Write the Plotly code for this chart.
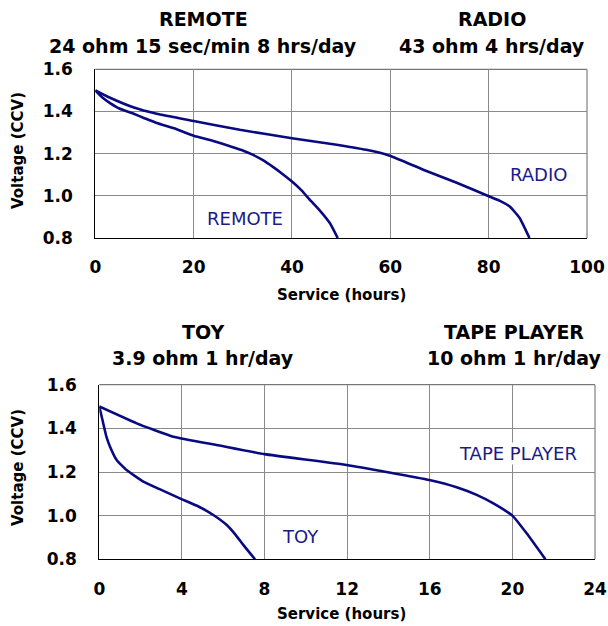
import plotly.graph_objects as go

# ---- data ----
remote_x = [0, 1.5, 3, 5, 7.7, 10, 12.5, 16, 20, 24, 27.4, 30, 32, 34, 36.2, 38, 40, 42, 43.6, 45.5, 47.7, 49.3]
remote_v = [1.5, 1.465, 1.44, 1.413, 1.39, 1.368, 1.345, 1.32, 1.285, 1.26, 1.235, 1.215, 1.195, 1.17, 1.136, 1.105, 1.068, 1.025, 0.982, 0.935, 0.871, 0.8]

radio_x = [0, 3, 7.7, 12.5, 20, 29.4, 40, 47.7, 55.1, 59.9, 66.7, 73.5, 79.9, 82.5, 84.3, 86.3, 88.3]
radio_v = [1.5, 1.465, 1.42, 1.389, 1.355, 1.313, 1.273, 1.247, 1.218, 1.19, 1.124, 1.062, 0.999, 0.974, 0.949, 0.895, 0.8]

toy_x = [0, 0.1, 0.19, 0.35, 0.52, 0.84, 1.32, 2.13, 3.0, 3.9, 4.8, 5.52, 6.17, 6.6, 6.97, 7.54]
toy_v = [1.5, 1.46, 1.423, 1.36, 1.316, 1.255, 1.209, 1.156, 1.118, 1.079, 1.042, 1.003, 0.957, 0.912, 0.866, 0.8]

tape_x = [0, 1.81, 3.58, 5.68, 7.99, 11.98, 15.98, 17.3, 18.27, 19.08, 20.0, 20.69, 21.6]
tape_v = [1.5, 1.423, 1.362, 1.324, 1.282, 1.232, 1.163, 1.13, 1.095, 1.056, 1.0, 0.919, 0.8]

top_xticks = [0, 20, 40, 60, 80, 100]
bot_xticks = [0, 4, 8, 12, 16, 20, 24]
yticks = [0.8, 1.0, 1.2, 1.4, 1.6]

top_titles = [("REMOTE", "24 ohm 15 sec/min 8 hrs/day", 203), ("RADIO", "43 ohm 4 hrs/day", 492)]
bot_titles = [("TOY", "3.9 ohm 1 hr/day", 203), ("TAPE PLAYER", "10 ohm 1 hr/day", 514)]

# ---- styling ----
W, H = 608, 626
LINE = "#0a0a80"
LABEL = "#1a1a8a"
BOLD = "DejaVu Sans"
GRID = "#8a8a8a"

fig = go.Figure()
for xs, vs, xa, ya in [(remote_x, remote_v, "x", "y"), (radio_x, radio_v, "x", "y"),
                       (toy_x, toy_v, "x2", "y2"), (tape_x, tape_v, "x2", "y2")]:
    fig.add_trace(go.Scatter(x=xs, y=vs, xaxis=xa, yaxis=ya, mode="lines",
                             line=dict(color=LINE, width=2.6, shape="spline", smoothing=0.4),
                             showlegend=False, hoverinfo="skip", cliponaxis=True))

def px_x(p):
    return p / W

def px_y(p):
    return 1 - p / H

axis_common = dict(showline=True, linecolor="black", linewidth=1.2, showgrid=True,
                   gridcolor=GRID, gridwidth=1, zeroline=False, ticks="", automargin=False,
                   tickfont=dict(family=BOLD, size=17, color="black", weight="bold"))

fig.update_layout(
    width=W, height=H, margin=dict(l=0, r=0, t=0, b=0, autoexpand=False),
    paper_bgcolor="white", plot_bgcolor="white",
    xaxis=dict(domain=[px_x(95.3), px_x(587)], range=[0, 100], tickvals=top_xticks,
               anchor="y", ticklabelstandoff=13, **axis_common),
    yaxis=dict(domain=[px_y(238), px_y(69.3)], range=[0.8, 1.6], tickvals=yticks,
               tickformat=".1f", anchor="x", ticklabelstandoff=18, **axis_common),
    xaxis2=dict(domain=[px_x(99.3), px_x(595)], range=[0, 24], tickvals=bot_xticks,
                anchor="y2", ticklabelstandoff=14, **axis_common),
    yaxis2=dict(domain=[px_y(559.3), px_y(384.7)], range=[0.8, 1.6], tickvals=yticks,
                tickformat=".1f", anchor="x2", ticklabelstandoff=18, **axis_common),
)

# top and right frame edges (gray)
shapes = []
for xr, yr in [("x domain", "y domain"), ("x2 domain", "y2 domain")]:
    shapes.append(dict(type="line", xref=xr, yref=yr, x0=0, x1=1, y0=1, y1=1,
                       line=dict(color="#555555", width=1), layer="below"))
    shapes.append(dict(type="line", xref=xr, yref=yr, x0=1, x1=1, y0=0, y1=1,
                       line=dict(color="#999999", width=1.5), layer="below"))
fig.update_layout(shapes=shapes)

ann = []
# curve labels
for txt, x, y, xr, yr in [("REMOTE", 30.4, 0.893, "x", "y"), ("RADIO", 90.1, 1.1, "x", "y"),
                          ("TOY", 9.72, 0.904, "x2", "y2"), ("TAPE PLAYER", 20.26, 1.286, "x2", "y2")]:
    ann.append(dict(text=txt, x=x, y=y, xref=xr, yref=yr, showarrow=False,
                    bgcolor="white", borderpad=0,
                    font=dict(family=BOLD, size=18, color=LABEL)))
# panel titles
for titles, y1, y2 in [(top_titles, 19, 46), (bot_titles, 332, 358)]:
    for t, sub, cx in titles:
        ann.append(dict(text="<b>%s</b>" % t, x=px_x(cx), y=px_y(y1), xref="paper", yref="paper",
                        showarrow=False, xanchor="center", yanchor="middle",
                        font=dict(family=BOLD, size=19, color="black")))
        ann.append(dict(text="<b>%s</b>" % sub, x=px_x(cx), y=px_y(y2), xref="paper", yref="paper",
                        showarrow=False, xanchor="center", yanchor="middle",
                        font=dict(family=BOLD, size=19, color="black")))
# axis titles
for yc in [295, 614]:
    ann.append(dict(text="<b>Service (hours)</b>", x=px_x(341), y=px_y(yc), xref="paper", yref="paper",
                    showarrow=False, xanchor="center", yanchor="middle",
                    font=dict(family=BOLD, size=15, color="black")))
for yc in [151, 468]:
    ann.append(dict(text="<b>Voltage (CCV)</b>", x=px_x(18), y=px_y(yc), xref="paper", yref="paper",
                    showarrow=False, xanchor="center", yanchor="middle", textangle=-90,
                    font=dict(family=BOLD, size=15, color="black")))
fig.update_layout(annotations=ann)

fig.write_html("out.html", config={"displayModeBar": False},
               post_script="document.body.style.margin='0';document.body.style.overflow='hidden';")
